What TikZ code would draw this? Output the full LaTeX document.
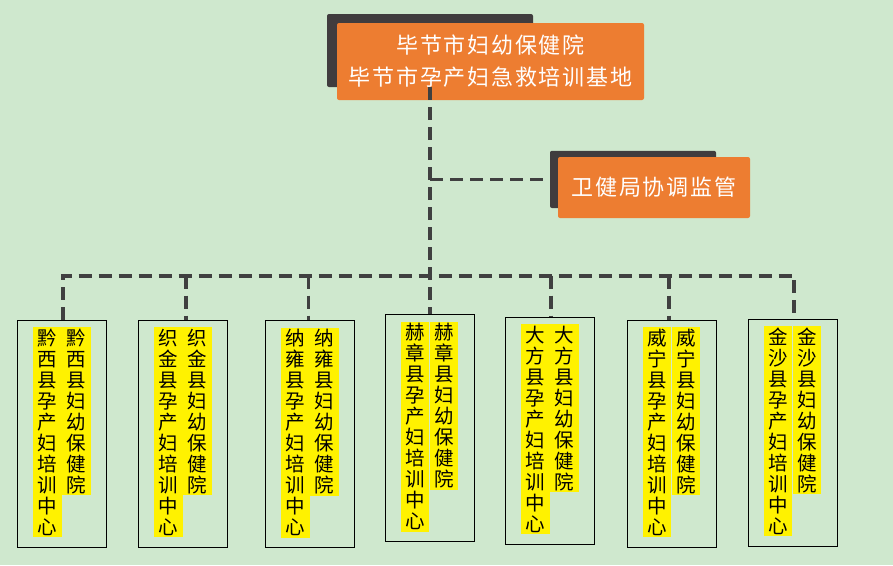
\documentclass[tikz,border=0pt]{standalone}
\usepackage{fontspec}
\newfontfamily\cjk{Noto Sans CJK SC}
\newfontfamily\cjkls[LetterSpace=8]{Noto Sans CJK SC}
\definecolor{bg}{RGB}{207,232,206}
\definecolor{org}{RGB}{237,125,49}
\definecolor{shd}{RGB}{64,60,62}
\definecolor{ln}{RGB}{64,64,64}
\begin{document}
\begin{tikzpicture}[x=1pt,y=-1pt,
 shadowbox/.style={fill=shd, rounded corners=2pt, inner sep=0pt},
 orgbox/.style={fill=org, rounded corners=2pt, text=white, inner sep=0pt, font=\cjkls\fontsize{22}{32}\selectfont, align=center},
 conn/.style={draw=ln, line width=3.6pt, dash pattern=on 13pt off 7pt},
 unit/.style={draw=black, line width=1.2pt, minimum width=89pt, minimum height=227pt, inner sep=0pt},
 col/.style={fill=yellow, inner sep=0pt, minimum width=28.5pt, text width=28.5pt, align=center, font=\cjk\fontsize{19.5}{21}\selectfont, anchor=north west},
 longcol/.style={col, minimum height=210pt},
 shortcol/.style={col, minimum height=168pt},
]
\useasboundingbox (0,0) rectangle (893,565);
\fill[bg] (0,0) rectangle (893,565);

% top boxes
\node[shadowbox, minimum width=206pt, minimum height=73pt] (s1) at (430,50.5) {};
\node[orgbox, minimum width=307pt, minimum height=77pt] (top) at (490.5,61.5) {毕节市妇幼保健院\\毕节市孕产妇急救培训基地};
\node[shadowbox, minimum width=166pt, minimum height=57.3pt] (s2) at (633,179.4) {};
\node[orgbox, minimum width=192pt, minimum height=61pt] (wj) at (654,187.5) {卫健局协调监管};

% unit boxes
\node[unit] (b1) at (62,433.8) {};
\node[unit] (b2) at (183.2,433.8) {};
\node[unit] (b3) at (310.2,434.2) {};
\node[unit] (b4) at (429.8,428.3) {};
\node[unit] (b5) at (550,430.8) {};
\node[unit] (b6) at (671.8,433.8) {};
\node[unit] (b7) at (792.8,432.8) {};

% columns
\node[longcol]  (c1l) at ([shift={(16,7.5)}]b1.north west) {黔\\西\\县\\孕\\产\\妇\\培\\训\\中\\心};
\node[shortcol] (c1r) at ([shift={(45,7.5)}]b1.north west) {黔\\西\\县\\妇\\幼\\保\\健\\院};
\node[longcol]  (c2l) at ([shift={(16,7.5)}]b2.north west) {织\\金\\县\\孕\\产\\妇\\培\\训\\中\\心};
\node[shortcol] (c2r) at ([shift={(45,7.5)}]b2.north west) {织\\金\\县\\妇\\幼\\保\\健\\院};
\node[longcol]  (c3l) at ([shift={(16,7.5)}]b3.north west) {纳\\雍\\县\\孕\\产\\妇\\培\\训\\中\\心};
\node[shortcol] (c3r) at ([shift={(45,7.5)}]b3.north west) {纳\\雍\\县\\妇\\幼\\保\\健\\院};
\node[longcol]  (c4l) at ([shift={(16,7.5)}]b4.north west) {赫\\章\\县\\孕\\产\\妇\\培\\训\\中\\心};
\node[shortcol] (c4r) at ([shift={(45,7.5)}]b4.north west) {赫\\章\\县\\妇\\幼\\保\\健\\院};
\node[longcol]  (c5l) at ([shift={(16,7.5)}]b5.north west) {大\\方\\县\\孕\\产\\妇\\培\\训\\中\\心};
\node[shortcol] (c5r) at ([shift={(45,7.5)}]b5.north west) {大\\方\\县\\妇\\幼\\保\\健\\院};
\node[longcol]  (c6l) at ([shift={(16,7.5)}]b6.north west) {威\\宁\\县\\孕\\产\\妇\\培\\训\\中\\心};
\node[shortcol] (c6r) at ([shift={(45,7.5)}]b6.north west) {威\\宁\\县\\妇\\幼\\保\\健\\院};
\node[longcol]  (c7l) at ([shift={(16,7.5)}]b7.north west) {金\\沙\\县\\孕\\产\\妇\\培\\训\\中\\心};
\node[shortcol] (c7r) at ([shift={(45,7.5)}]b7.north west) {金\\沙\\县\\妇\\幼\\保\\健\\院};

% bus coordinates
\coordinate (d1) at (62.7,275.7);
\coordinate (d2) at (185.7,275.7);
\coordinate (d3) at (308.3,275.7);
\coordinate (d5) at (551,275.7);
\coordinate (d6) at (668.7,275.7);
\coordinate (d7) at (794,275.7);

% connectors
\draw[conn] (s1.south) -- (s1.south |- b4.north);
\draw[conn] (s1.south |- s2.west) -- (s2.west);
\draw[conn] (d1 |- b1.north) -- (d1) -- (d7) -- (d7 |- b7.north);
\draw[conn] (d2) -- (d2 |- b2.north);
\draw[conn] (d3) -- (d3 |- b3.north);
\draw[conn] (d5) -- (d5 |- b5.north);
\draw[conn] (d6) -- (d6 |- b6.north);
\end{tikzpicture}
\end{document}
